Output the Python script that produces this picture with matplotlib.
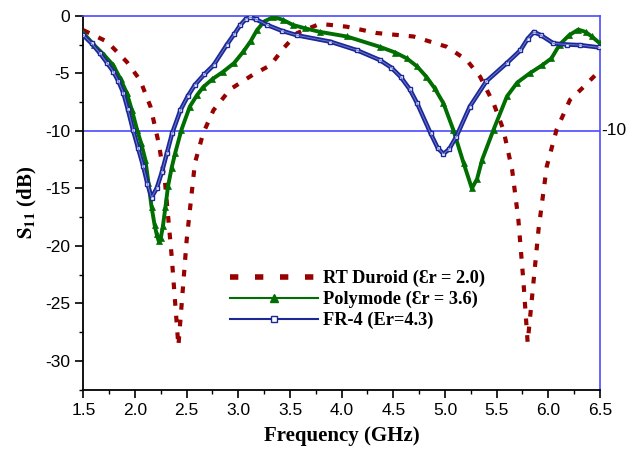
import numpy as np
import matplotlib
matplotlib.use("Agg")
import matplotlib.pyplot as plt
from matplotlib.ticker import MultipleLocator
from matplotlib.lines import Line2D

plt.rcParams['axes.unicode_minus'] = False
plt.rcParams['mathtext.fontset'] = 'stix'

# ── measured S11 curves (GHz, dB) ─────────────────────────────────
rt_freq = [1.50, 1.73, 1.92, 2.05, 2.15, 2.23, 2.29, 2.355, 2.42, 2.50, 2.58,
           2.66, 2.76, 2.92, 3.145, 3.31, 3.44, 3.57, 3.79, 4.05, 4.34, 4.695,
           5.02, 5.21, 5.34, 5.47, 5.565, 5.65, 5.71, 5.76, 5.80, 5.84, 5.905,
           5.985, 6.08, 6.21, 6.34, 6.45]
rt_s11 = [-1.25, -2.25, -4.0, -5.6, -7.9, -11.1, -14.4, -20.9, -28.7, -19.5,
          -12.8, -10.2, -8.2, -6.4, -5.1, -4.3, -2.8, -1.5, -0.7, -0.95, -1.5,
          -1.8, -2.7, -3.85, -5.3, -7.6, -9.9, -13.4, -17.7, -23.2, -28.4,
          -24.7, -18.6, -13.1, -9.9, -7.3, -6.2, -5.2]

poly_freq = [1.50, 1.60, 1.70, 1.79, 1.86, 1.92, 1.97, 2.02, 2.06, 2.10, 2.13,
             2.16, 2.19, 2.21, 2.23, 2.25, 2.27, 2.295, 2.32, 2.355, 2.39,
             2.45, 2.53, 2.60, 2.66, 2.75, 2.855, 2.96, 3.05, 3.12, 3.18, 3.25,
             3.34, 3.43, 3.53, 3.65, 3.79, 4.05, 4.37, 4.52, 4.63, 4.73, 4.82,
             4.90, 4.985, 5.08, 5.18, 5.26, 5.31, 5.36, 5.47, 5.60, 5.70, 5.82,
             5.94, 6.03, 6.11, 6.20, 6.29, 6.36, 6.42, 6.50]
poly_s11 = [-1.5, -2.5, -3.4, -4.3, -5.5, -6.7, -8.2, -9.9, -11.1, -12.5,
            -14.5, -16.6, -18.2, -19.0, -19.6, -19.3, -18.3, -16.6, -14.8,
            -13.2, -11.9, -9.9, -7.9, -6.9, -6.2, -5.5, -4.85, -4.1, -3.1,
            -2.2, -1.25, -0.5, -0.1, -0.35, -0.8, -1.1, -1.4, -1.8, -2.7, -3.2,
            -3.7, -4.4, -5.3, -6.3, -7.6, -9.9, -12.8, -15.0, -14.2, -12.5,
            -9.9, -7.0, -5.8, -5.0, -4.3, -3.7, -2.5, -1.7, -1.2, -1.4, -1.8,
            -2.4]

fr4_freq = [1.50, 1.58, 1.66, 1.73, 1.79, 1.84, 1.887, 1.93, 1.98, 2.03, 2.08,
            2.12, 2.16, 2.21, 2.26, 2.31, 2.36, 2.44, 2.51, 2.58, 2.67, 2.76,
            2.89, 2.96, 3.02, 3.07, 3.11, 3.17, 3.28, 3.42, 3.57, 3.89, 4.15,
            4.37, 4.48, 4.57, 4.66, 4.73, 4.86, 4.93, 4.985, 5.04, 5.11, 5.24,
            5.40, 5.60, 5.73, 5.80, 5.86, 5.93, 6.05, 6.18, 6.31, 6.49]
fr4_s11 = [-1.7, -2.4, -3.25, -4.1, -4.85, -5.7, -6.7, -8.1, -9.9, -11.5,
           -13.1, -14.6, -15.8, -15.0, -13.6, -11.9, -10.2, -8.2, -7.0, -6.0,
           -5.1, -4.3, -2.5, -1.6, -0.8, -0.3, -0.1, -0.3, -0.8, -1.3, -1.7,
           -2.25, -3.0, -3.85, -4.5, -5.3, -6.4, -7.6, -10.2, -11.5, -12.0,
           -11.6, -10.5, -7.9, -5.7, -4.1, -3.0, -2.0, -1.4, -1.7, -2.4, -2.5,
           -2.55, -2.75]

labels = ['RT Duroid (\u0190r = 2.0)', 'Polymode (\u0190r = 3.6)', 'FR-4 (Er=4.3)']
red, green, navy, guide = '#990000', '#006e00', '#1c2896', '#4a4aff'

fig = plt.figure(figsize=(6.41, 4.51), dpi=100)
ax = fig.add_axes([0.130, 0.136, 0.806, 0.829])

ax.axhline(-10, color=guide, lw=1.2, zorder=1)

ax.plot(rt_freq, rt_s11, color=red, lw=3, dashes=(1.6, 2.4), zorder=3)
ax.plot(poly_freq, poly_s11, color=green, lw=2.8, marker='^', ms=4,
        markeredgewidth=0.5, zorder=4)
ax.plot(fr4_freq, fr4_s11, color=navy, lw=3.2, marker='s', ms=3.5,
        mfc='white', mec=navy, mew=1, zorder=5)
ax.plot(fr4_freq, fr4_s11, color='#6a78d0', lw=0.7, zorder=6)

ax.set_xlim(1.5, 6.5)
ax.set_ylim(-32.5, 0)
ax.xaxis.set_major_locator(MultipleLocator(0.5))
ax.xaxis.set_minor_locator(MultipleLocator(0.25))
ax.yaxis.set_major_locator(MultipleLocator(5))
ax.yaxis.set_minor_locator(MultipleLocator(2.5))
ax.xaxis.set_major_formatter(plt.FormatStrFormatter('%.1f'))
ax.yaxis.set_major_formatter(plt.FormatStrFormatter('%d'))
ax.tick_params(which='major', direction='out', length=6, width=1.2,
               labelsize=12.5, top=False, right=False)
ax.tick_params(which='minor', direction='out', length=3, width=1.0,
               top=False, right=False)
for lab in ax.get_xticklabels() + ax.get_yticklabels():
    lab.set_family('Liberation Sans')

for side in ('left', 'bottom'):
    ax.spines[side].set_color('black')
    ax.spines[side].set_linewidth(1.3)
for side in ('top', 'right'):
    ax.spines[side].set_color(guide)
    ax.spines[side].set_linewidth(1.2)

ax.text(1.003, -10, '-10', transform=ax.get_yaxis_transform(),
        ha='left', va='center', fontsize=12.5, family='Liberation Sans')

ax.set_xlabel('Frequency (GHz)', fontsize=15, fontweight='bold',
              family='Liberation Serif', labelpad=6)
ax.set_ylabel(r'$\mathbf{S_{11}}$ (dB)', fontsize=15, fontweight='bold',
              family='Liberation Serif', labelpad=4)

handles = [
    Line2D([], [], color=red, lw=4, dashes=(1.5, 3)),
    Line2D([], [], color=green, lw=1.5, marker='^', ms=6),
    Line2D([], [], color=navy, lw=1.5, marker='s', ms=5, mfc='white', mec=navy),
]
ax.legend(handles, labels, loc='upper left', bbox_to_anchor=(0.27, 0.34),
          frameon=False, handlelength=4.8, handletextpad=0.25,
          labelspacing=0.2, borderaxespad=0,
          prop={'family': ['Liberation Serif', 'DejaVu Serif'],
                'weight': 'bold', 'size': 13.2})

fig.savefig('out.png', dpi=100)
